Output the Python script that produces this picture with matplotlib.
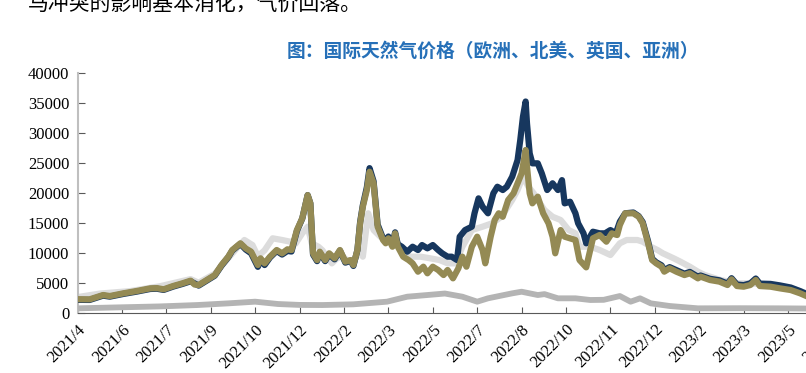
import matplotlib
matplotlib.use('Agg')
import matplotlib.pyplot as plt

# trading-day index (ticks every 33 days) and prices
tick_days = [0, 33, 66, 99, 132, 165, 198, 231, 264, 297, 330, 363, 396, 429, 462, 495, 528, 561]
tick_labels = ['2021/4', '2021/6', '2021/7', '2021/9', '2021/10', '2021/12', '2022/2', '2022/3',
               '2022/5', '2022/7', '2022/8', '2022/10', '2022/11', '2022/12', '2023/2', '2023/3',
               '2023/5', '2023/6']

# UK (olive)
uk_days = [0, 9, 19, 24, 34, 44, 54, 59, 64, 71, 78, 84, 87, 90, 94, 102, 107, 112, 115, 121,
           125, 129, 134, 136, 139, 143, 148, 152, 156, 159, 163, 167, 171, 173, 175, 178, 180,
           184, 187, 191, 195, 199, 203, 205, 208, 210, 212, 215, 217, 220, 223, 227, 229, 231,
           234, 236, 238, 242, 246, 249, 253, 257, 260, 264, 268, 272, 275, 279, 283, 286, 289,
           293, 297, 301, 303, 307, 310, 313, 316, 320, 324, 327, 330, 333, 334, 336, 338, 342,
           346, 350, 353, 355, 359, 362, 366, 370, 373, 378, 383, 388, 393, 397, 401, 403, 407,
           413, 417, 420, 424, 427, 430, 434, 436, 440, 445, 451, 455, 461, 463, 470, 477, 483,
           486, 490, 495, 500, 504, 507, 515, 522, 530, 537, 541]
uk = [2350, 2330, 3050, 2880, 3330, 3720, 4160, 4200, 4000, 4550, 5000, 5440, 4800, 4720, 5280,
      6380, 8050, 9440, 10550, 11670, 10830, 10270, 8050, 9170, 8330, 9440, 10550, 10000, 10670,
      10550, 13880, 15830, 19700, 18330, 10000, 8880, 10270, 8880, 10000, 9170, 10550, 8610,
      8880, 8050, 10550, 15000, 17770, 20550, 23600, 21670, 14440, 12220, 11670, 12500, 11100,
      13330, 11100, 9440, 8880, 8330, 6940, 7770, 6670, 7770, 7220, 6380, 7220, 5830, 7500, 9440,
      7770, 11100, 12770, 10550, 8330, 12770, 15550, 16670, 16100, 18880, 20000, 21670, 23330,
      27220, 24440, 20000, 18330, 19440, 16670, 15000, 12770, 10000, 13880, 12770, 12500, 12220,
      8880, 7660, 12500, 13050, 11940, 13330, 13050, 14720, 16670, 16670, 16100, 15000, 11670,
      8880, 8330, 7770, 6940, 7500, 6940, 6380, 6670, 5830, 6110, 5550, 5280, 4720, 5660, 4550,
      4440, 4720, 5550, 4550, 4440, 4160, 3880, 3330, 2940]

# Europe (navy)
eu_days = [0, 9, 19, 24, 34, 44, 54, 59, 64, 71, 78, 84, 90, 94, 102, 107, 112, 115, 121, 125,
           129, 134, 136, 139, 143, 148, 152, 156, 159, 163, 167, 171, 173, 175, 178, 180, 184,
           187, 191, 195, 199, 203, 205, 208, 210, 212, 215, 217, 220, 223, 227, 229, 231, 234,
           236, 238, 241, 245, 249, 253, 256, 260, 264, 268, 271, 275, 278, 282, 284, 288, 293,
           295, 298, 301, 305, 309, 312, 316, 319, 323, 327, 329, 331, 333, 334, 336, 338, 342,
           345, 349, 353, 357, 360, 362, 366, 370, 372, 376, 378, 383, 388, 392, 396, 400, 403,
           407, 413, 417, 420, 424, 427, 430, 434, 436, 440, 445, 451, 455, 461, 463, 470, 477,
           483, 486, 490, 495, 500, 504, 507, 515, 522, 530, 537, 541]
eu = [2250, 2230, 2950, 2780, 3230, 3620, 4060, 4100, 3900, 4450, 4900, 5340, 4620, 5180, 6280,
      7950, 9340, 10450, 11570, 10630, 10000, 7750, 8900, 8050, 9300, 10400, 9800, 10400, 10300,
      13700, 15800, 19700, 18330, 9800, 8700, 10100, 8700, 9850, 9000, 10450, 8450, 8750, 7900,
      10550, 15200, 18000, 21000, 24200, 22000, 14800, 12500, 12000, 12800, 11400, 13500, 11500,
      11100, 10270, 11100, 10550, 11380, 10830, 11380, 10550, 10000, 9440, 9440, 8880, 12770,
      13880, 14440, 16670, 19160, 17770, 16670, 20000, 21100, 20550, 21100, 22770, 25550, 28880,
      32770, 35300, 31660, 26660, 25000, 25000, 23330, 20550, 21670, 20550, 22200, 18330, 18600,
      16670, 15000, 13330, 11670, 13600, 13330, 13330, 13880, 13330, 15270, 16670, 16800, 16200,
      15200, 12000, 9100, 8500, 8000, 7200, 7700, 7200, 6600, 6900, 6100, 6300, 5750, 5500, 4950,
      5850, 4800, 4700, 5000, 5800, 4950, 4900, 4650, 4300, 3700, 3300]

# Asia (light grey)
asia_days = [0, 17, 39, 61, 84, 90, 102, 112, 119, 124, 130, 134, 139, 145, 152, 158, 162, 167,
             171, 174, 179, 182, 185, 189, 193, 197, 200, 205, 210, 212, 216, 220, 225, 230, 238,
             242, 247, 255, 262, 269, 275, 281, 286, 293, 301, 308, 315, 323, 327, 331, 335, 339,
             342, 347, 353, 359, 365, 370, 373, 381, 388, 396, 403, 408, 416, 420, 426, 431, 435,
             443, 448, 455, 461, 466, 477, 489, 500, 511, 522, 533, 541]
asia = [2700, 3300, 3700, 4500, 5700, 5100, 6600, 9200, 11000, 12220, 11380, 9500, 10500, 12500,
        12220, 11940, 11600, 13330, 14440, 11670, 11100, 10500, 9500, 8330, 9200, 9500, 8880, 8600,
        10550, 9440, 16670, 13880, 12770, 12300, 11670, 10550, 9440, 9440, 9170, 8880, 8330, 8330,
        11100, 13880, 14440, 15000, 16100, 18880, 20550, 22770, 21100, 20000, 18880, 17220, 16100,
        15550, 13880, 13330, 11100, 11100, 10550, 9720, 11670, 12220, 12220, 11940, 11100, 10550,
        10000, 9170, 8610, 7770, 6940, 6400, 5600, 5000, 5000, 4800, 4500, 4000, 3400]

# North America (mid grey)
na_days = [0, 32, 61, 89, 112, 132, 149, 165, 182, 205, 230, 245, 260, 273, 286, 297, 305, 323,
           330, 342, 347, 357, 370, 381, 391, 403, 411, 418, 426, 440, 461, 492, 522, 541]
na = [830, 1000, 1150, 1380, 1660, 1940, 1550, 1400, 1380, 1500, 1940, 2770, 3050, 3300, 2770,
      1940, 2500, 3330, 3600, 3050, 3200, 2500, 2500, 2220, 2250, 2880, 1940, 2500, 1660, 1220,
      830, 850, 830, 800]

plt.rcParams['font.family'] = ['Liberation Serif', 'Noto Sans CJK SC']

fig = plt.figure(figsize=(8.06, 3.73), dpi=100)
ax = fig.add_axes([0.0962, 0.160, 0.96, 0.6434])

ax.plot(asia_days, asia, color='#dcdcdc', lw=4.5, zorder=2)
ax.plot(na_days, na, color='#b4b4b4', lw=4.2, zorder=3)
ax.plot(eu_days, eu, color='#17375e', lw=4.5, zorder=4)
ax.plot(uk_days, uk, color='#948a54', lw=4.5, zorder=5)

ax.set_xlim(0, 575)
ax.set_ylim(0, 40000)
ax.set_yticks(range(0, 40001, 5000))
ax.set_xticks(tick_days)
ax.set_xticklabels(tick_labels, rotation=45, ha='right', va='top', rotation_mode='anchor')
ax.tick_params(axis='both', labelsize=12, direction='in', color='#595959')
ax.tick_params(axis='x', length=4, pad=6)
ax.tick_params(axis='y', length=5, pad=6)

for s in ['top', 'right']:
    ax.spines[s].set_visible(False)
ax.spines['left'].set_color('#bfbfbf')
ax.spines['left'].set_linewidth(1.5)
ax.spines['bottom'].set_color('#595959')

fig.text(0.612, 0.863, '图：国际天然气价格（欧洲、北美、英国、亚洲）', color='#2670b8',
         fontsize=13.5, fontweight='bold', ha='center', va='center', family='Noto Sans CJK SC')
fig.text(0.034, 0.99, '马冲突的影响基本消化，气价回落。', color='black', fontsize=15,
         ha='left', va='center', family='Noto Sans CJK SC')

fig.savefig('out.png', dpi=100)
